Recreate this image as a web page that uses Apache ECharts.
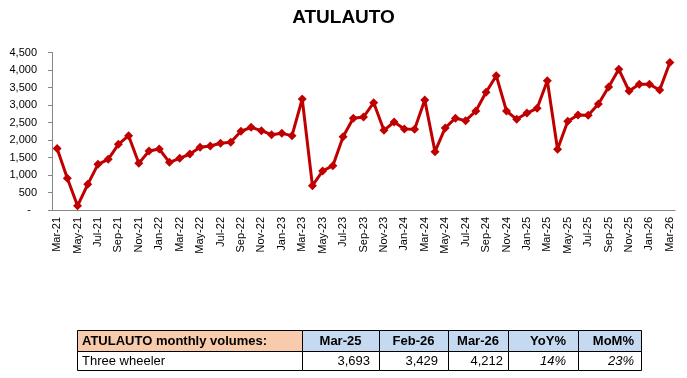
<!DOCTYPE html>
<html>
<head>
<meta charset="utf-8">
<script src="https://cdn.jsdelivr.net/npm/echarts@6/dist/echarts.min.js"></script>
<style>
  html, body { margin: 0; padding: 0; background: #fff; }
  #chart { width: 687px; height: 378px; }
</style>
</head>
<body>
<div id="chart"></div>
<script>
const months = [
  'Mar-21', 'Apr-21', 'May-21', 'Jun-21', 'Jul-21', 'Aug-21', 'Sep-21', 'Oct-21', 'Nov-21', 'Dec-21', 'Jan-22', 'Feb-22',
  'Mar-22', 'Apr-22', 'May-22', 'Jun-22', 'Jul-22', 'Aug-22', 'Sep-22', 'Oct-22', 'Nov-22', 'Dec-22', 'Jan-23', 'Feb-23',
  'Mar-23', 'Apr-23', 'May-23', 'Jun-23', 'Jul-23', 'Aug-23', 'Sep-23', 'Oct-23', 'Nov-23', 'Dec-23', 'Jan-24', 'Feb-24',
  'Mar-24', 'Apr-24', 'May-24', 'Jun-24', 'Jul-24', 'Aug-24', 'Sep-24', 'Oct-24', 'Nov-24', 'Dec-24', 'Jan-25', 'Feb-25',
  'Mar-25', 'Apr-25', 'May-25', 'Jun-25', 'Jul-25', 'Aug-25', 'Sep-25', 'Oct-25', 'Nov-25', 'Dec-25', 'Jan-26', 'Feb-26',
  'Mar-26',
];
const volumes = [
  1760, 906, 120, 733, 1305, 1448, 1876, 2124, 1333, 1686, 1743, 1362,
  1476, 1600, 1790, 1829, 1905, 1933, 2250, 2362, 2267, 2152, 2190, 2124,
  3171, 695, 1114, 1267, 2095, 2619, 2657, 3067, 2276, 2514, 2314, 2305,
  3143, 1667, 2345, 2625, 2552, 2829, 3362, 3838, 2829, 2590, 2771, 2905,
  3693, 1733, 2533, 2714, 2705, 3029, 3514, 4019, 3400, 3590, 3590, 3429,
  4212,
];

// summary table below the chart
const tableHeader = ['ATULAUTO monthly volumes:', 'Mar-25', 'Feb-26', 'Mar-26', 'YoY%', 'MoM%'];
const tableRow = ['Three wheeler', '3,693', '3,429', '4,212', '14%', '23%'];

const FONT = '"Liberation Sans", Arial, sans-serif';
const colX = [77, 302, 379, 448, 508, 578, 641];
const rowY = [330, 351, 370];
const headAlign = ['left', 'center', 'center', 'center', 'right', 'right'];
const padRight = [0, 9, 10, 5, 12, 7];

const graphics = [];
for (let c = 0; c < tableHeader.length; c++) {
  const x0 = colX[c] + 0.5;
  const w = colX[c + 1] - colX[c];
  graphics.push({
    type: 'rect',
    shape: { x: x0, y: rowY[0] + 0.5, width: w, height: rowY[1] - rowY[0] },
    style: { fill: c === 0 ? '#F8CBAD' : '#C5D9F1', stroke: '#000', lineWidth: 1 },
  });
  graphics.push({
    type: 'rect',
    shape: { x: x0, y: rowY[1] + 0.5, width: w, height: rowY[2] - rowY[1] },
    style: { fill: '#fff', stroke: '#000', lineWidth: 1 },
  });
  let hx = colX[c] + 5;
  if (headAlign[c] === 'center') hx = colX[c] + w / 2;
  if (headAlign[c] === 'right') hx = colX[c + 1] - padRight[c];
  graphics.push({
    type: 'text',
    z: 10,
    style: {
      text: tableHeader[c], x: hx, y: (rowY[0] + rowY[1]) / 2 + 1,
      font: 'bold 13px ' + FONT, fill: '#000', align: headAlign[c], verticalAlign: 'middle',
    },
  });
  graphics.push({
    type: 'text',
    z: 10,
    style: {
      text: tableRow[c],
      x: c === 0 ? colX[c] + 5 : colX[c + 1] - padRight[c],
      y: (rowY[1] + rowY[2]) / 2 + 1,
      font: (c >= 4 ? 'italic ' : '') + '13px ' + FONT,
      fill: '#000', align: c === 0 ? 'left' : 'right', verticalAlign: 'middle',
    },
  });
}

const chart = echarts.init(document.getElementById('chart'));
chart.setOption({
  animation: false,
  backgroundColor: '#fff',
  title: {
    text: 'ATULAUTO',
    left: 'center',
    top: 3,
    textStyle: { fontFamily: FONT, fontSize: 19, fontWeight: 'bold', color: '#000' },
  },
  grid: { left: 52, right: 12, top: 52.5, bottom: 168, containLabel: false },
  xAxis: {
    type: 'category',
    data: months,
    boundaryGap: true,
    axisLine: { lineStyle: { color: '#868686', width: 1 } },
    axisTick: { interval: 1, length: 4, lineStyle: { color: '#868686' } },
    axisLabel: {
      interval: 1, rotate: 90, margin: 7,
      fontFamily: FONT, fontSize: 11, color: '#000',
    },
    splitLine: { show: false },
  },
  yAxis: {
    type: 'value',
    min: 0,
    max: 4500,
    interval: 500,
    axisLine: { show: true, lineStyle: { color: '#868686', width: 1 } },
    axisTick: { show: true, length: 4, lineStyle: { color: '#868686' } },
    axisLabel: {
      margin: 15, fontFamily: FONT, fontSize: 11, color: '#000',
      formatter: (v) => (v === 0 ? '-  ' : v.toLocaleString('en-US')),
    },
    splitLine: { show: false },
  },
  series: [
    {
      name: 'Three wheeler',
      type: 'line',
      data: volumes,
      symbol: 'diamond',
      symbolSize: 9,
      showAllSymbol: true,
      lineStyle: { color: '#C00000', width: 3 },
      itemStyle: { color: '#C00000' },
    },
  ],
  graphic: graphics,
});
</script>
</body>
</html>
